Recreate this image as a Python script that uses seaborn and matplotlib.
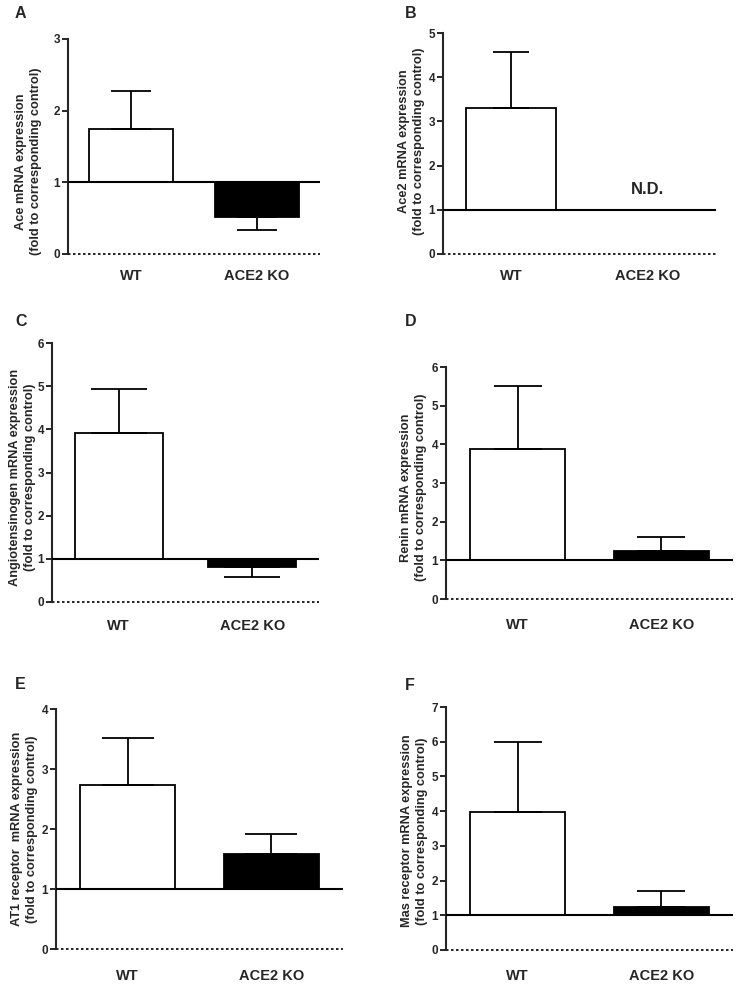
import matplotlib
matplotlib.use("Agg")
import matplotlib.pyplot as plt
import pandas as pd
import seaborn as sns

# groups and values (fold to corresponding control), bars start at 1
groups = ["WT", "ACE2 KO"]
baseline = 1.0

ace_mean = [1.75, 0.52]
ace_sem = [0.52, 0.18]
ace2_mean = [3.31, None]          # ACE2 KO: not detected
ace2_sem = [1.25, None]
agt_mean = [3.92, 0.82]
agt_sem = [1.02, 0.25]
renin_mean = [3.87, 1.24]
renin_sem = [1.65, 0.36]
at1_mean = [2.73, 1.59]
at1_sem = [0.78, 0.32]
mas_mean = [3.98, 1.23]
mas_sem = [2.02, 0.48]

ylabels = [
    "Ace mRNA expression\n(fold to corresponding control)",
    "Ace2 mRNA expression\n(fold to corresponding control)",
    "Angiotensinogen mRNA expression\n(fold to corresponding control)",
    "Renin mRNA expression\n(fold to corresponding control)",
    "AT1 receptor  mRNA expression\n(fold to corresponding control)",
    "Mas receptor mRNA expression\n(fold to corresponding control)",
]
letters = ["A", "B", "C", "D", "E", "F"]
ymax = [3, 5, 6, 6, 4, 7]

W, H = 737, 985
sns.set_style("ticks")
plt.rcParams["font.family"] = ["Liberation Sans", "DejaVu Sans"]
plt.rcParams["font.weight"] = "bold"
plt.rcParams["axes.labelweight"] = "bold"

fig = plt.figure(figsize=(W / 100, H / 100), dpi=100)

# pixel boxes: left, top, right, bottom
boxes = [(68, 39, 320, 254), (443, 33, 716, 254),
         (52, 343, 319, 602), (446, 367, 733, 599),
         (56, 709, 343, 949), (446, 707, 733, 950)]
label_right = [42, 425, 36, 427, 38, 428]
label_yfrac = [0.43, 0.51, 0.48, 0.48, 0.5, 0.49]
caps = [14.4, 13.3, 20, 17.3, 19, 17.6]
xpads = [11, 11, 12.3, 13.7, 14.5, 14]
letter_pos = [(15, 6), (405, 6), (15, 314), (405, 314), (15, 677), (405, 678)]

means = [ace_mean, ace2_mean, agt_mean, renin_mean, at1_mean, mas_mean]
sems = [ace_sem, ace2_sem, agt_sem, renin_sem, at1_sem, mas_sem]

for i in range(6):
    l, t, r, b = boxes[i]
    ax = fig.add_axes([l / W, 1 - b / H, (r - l) / W, (b - t) / H])

    df = pd.DataFrame({"group": groups, "mean": means[i], "sem": sems[i]}).dropna()
    df["height"] = df["mean"] - baseline

    sns.barplot(data=df, x="group", y="height", hue="group", order=groups,
                palette={"WT": "white", "ACE2 KO": "black"}, width=0.66,
                edgecolor="black", linewidth=1.3, errorbar=None, legend=False,
                bottom=baseline, ax=ax)

    # one-sided error bars, pointing away from the baseline
    for _, row in df.iterrows():
        xpos = groups.index(row["group"])
        if row["mean"] >= baseline:
            yerr = [[0], [row["sem"]]]
        else:
            yerr = [[row["sem"]], [0]]
        ax.errorbar([xpos], [row["mean"]], yerr=yerr, fmt="none", ecolor="black",
                    elinewidth=1.3, capsize=caps[i], capthick=1.3, zorder=1)

    ax.axhline(baseline, color="black", lw=1.5, zorder=3)
    ax.axhline(0, color="black", lw=1.2, ls=(0, (1.5, 1.5)), clip_on=False)

    ax.set_xlim(-0.5, 1.5)
    ax.set_ylim(0, ymax[i])
    ax.set_yticks(range(ymax[i] + 1))
    ax.set_xlabel("")
    ax.set_ylabel(ylabels[i], fontsize=9.2, fontweight="bold", linespacing=1.3)
    ax.yaxis.set_label_coords((label_right[i] - l) / (r - l), label_yfrac[i])

    for s in ["top", "right", "bottom"]:
        ax.spines[s].set_visible(False)
    ax.spines["left"].set_linewidth(1.5)
    ax.tick_params(axis="y", length=4.5, width=1.4, pad=1.2, labelsize=8.5)
    ax.tick_params(axis="x", length=0, pad=xpads[i], labelsize=10.5)
    for lab in ax.get_xticklabels() + ax.get_yticklabels():
        lab.set_fontweight("bold")

    if i == 1:
        ax.text(1, 1.3, "N.D.", ha="center", va="bottom", fontsize=12,
                fontweight="bold")

    lx, ly = letter_pos[i]
    fig.text(lx / W, 1 - ly / H, letters[i], fontsize=11.5, fontweight="bold",
             ha="left", va="top")

fig.savefig("out.png", dpi=100)
